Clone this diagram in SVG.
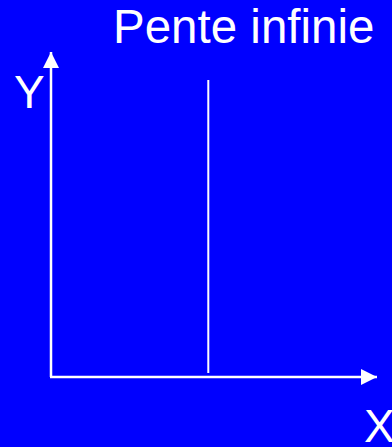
<svg xmlns="http://www.w3.org/2000/svg" width="392" height="447" viewBox="0 0 392 447">
<style>
.t{font-family:"Liberation Sans",Arial,sans-serif;fill:#fff}
.ax{stroke:#fff;stroke-width:2.5;fill:none}
</style>
<defs>
<marker id="ah" markerUnits="userSpaceOnUse" markerWidth="18" markerHeight="16" refX="16" refY="8" orient="auto">
<path d="M0,0 L16,8 L0,16 Z" fill="#fff"/>
</marker>
</defs>
<rect width="392" height="447" fill="#0000FF"/>
<g id="connectors">
<path class="ax" d="M51,377 V52" marker-end="url(#ah)"/>
<path class="ax" d="M50,377 H377" marker-end="url(#ah)"/>
</g>
<g id="line"><line x1="208.3" y1="80" x2="208.3" y2="373" stroke="#fff" stroke-width="2"/></g>
<g id="title"><text class="t" x="113" y="43" font-size="47.5">Pente infinie</text></g>
<g id="ylabel"><text class="t" x="14" y="108" font-size="46">Y</text></g>
<g id="xlabel"><text class="t" x="364" y="442" font-size="46">X</text></g>
</svg>
